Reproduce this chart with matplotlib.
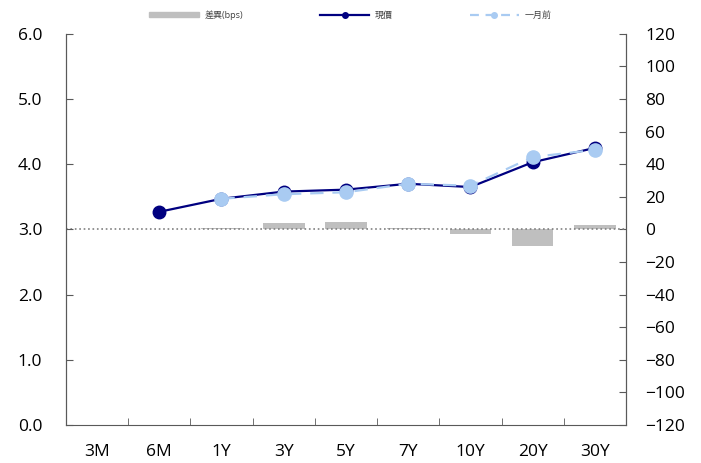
import matplotlib.pyplot as plt
import numpy as np
from matplotlib.lines import Line2D
from matplotlib.patches import Patch

plt.rcParams["font.family"] = ["Open Sans", "Noto Sans CJK TC", "DejaVu Sans"]

# Data
tenors = ["3M", "6M", "1Y", "3Y", "5Y", "7Y", "10Y", "20Y", "30Y"]
current = [np.nan, 3.27, 3.47, 3.58, 3.61, 3.70, 3.65, 4.03, 4.25]
month_ago = [np.nan, np.nan, 3.47, 3.54, 3.57, 3.70, 3.67, 4.11, 4.22]
diff_bps = [np.nan, np.nan, 1, 4, 4.5, 1, -3, -10, 3]

x = np.arange(len(tenors))

fig = plt.figure(figsize=(7.01, 4.63), dpi=100)
ax = fig.add_axes([0.094, 0.082, 0.799, 0.845])
ax2 = ax.twinx()

# bars on right axis, behind the lines
ax2.bar(x, diff_bps, width=0.67, color="#bfbfbf", zorder=1)
ax2.set_ylim(-120, 120)
ax2.set_yticks(np.arange(-120, 121, 20))
ax.set_zorder(ax2.get_zorder() + 1)
ax.patch.set_visible(False)

ax.axhline(3.0, color="#808080", linestyle=":", linewidth=1.2, zorder=1)
ax.plot(x, current, color="#000080", linewidth=1.6, marker="o", markersize=9, zorder=3)
ax.plot(x, month_ago, color="#a9cbf2", linewidth=1.6, linestyle=(0, (6, 4)),
        marker="o", markersize=9.5, zorder=4)

ax.set_xlim(-0.5, len(tenors) - 0.5)
ax.set_ylim(0, 6)
ax.set_yticks(np.arange(0, 6.1, 1))
ax.set_yticklabels([f"{v:.1f}" for v in np.arange(0, 6.1, 1)])
ax.set_xticks(x)
ax.set_xticklabels(tenors)
ax.set_xticks(np.arange(0.5, len(tenors) - 1, 1), minor=True)
ax.tick_params(axis="x", which="major", length=0, pad=14, labelsize=12.5)
ax.tick_params(axis="x", which="minor", direction="in", length=5, color="#595959")
ax.tick_params(axis="y", direction="in", length=5, color="#595959", pad=17, labelsize=12.5)
ax2.tick_params(axis="y", direction="in", length=5, color="#595959", pad=14, labelsize=12.5)

for a in (ax, ax2):
    a.spines["top"].set_visible(False)
    for s in ("left", "right", "bottom"):
        a.spines[s].set_color("#595959")
ax2.spines["bottom"].set_visible(False)

handles = [
    Patch(color="#bfbfbf"),
    Line2D([], [], color="#000080", linewidth=1.6, marker="o", markersize=4),
    Line2D([], [], color="#a9cbf2", linewidth=1.6, linestyle=(0, (4, 3)), marker="o", markersize=4),
]
fig.legend(handles, ["差異(bps)", "現價", "一月前"], loc="center", bbox_to_anchor=(0.5, 0.967),
           ncol=3, frameon=False, fontsize=6.5, handlelength=5.5, handleheight=0.5,
           columnspacing=8.5, handletextpad=0.6, labelcolor="#404040")

fig.savefig("out.png", dpi=100)
